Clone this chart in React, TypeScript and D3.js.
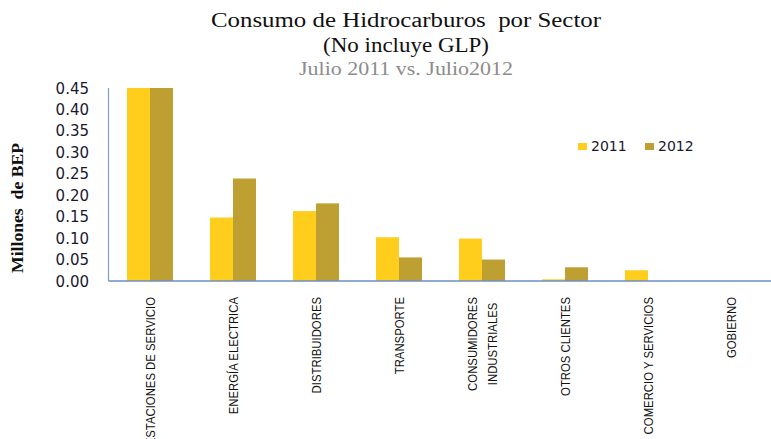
import { useRef, useEffect } from 'react';
import * as d3 from 'd3';

const categories = [
  ['ESTACIONES DE SERVICIO'],
  ['ENERGÍA ELECTRICA'],
  ['DISTRIBUIDORES'],
  ['TRANSPORTE'],
  ['CONSUMIDORES', 'INDUSTRIALES'],
  ['OTROS CLIENTES'],
  ['COMERCIO Y SERVICIOS'],
  ['GOBIERNO'],
];
const series = ['2011', '2012'];
const values2011 = [0.45, 0.148, 0.163, 0.102, 0.099, 0.004, 0.025, 0];
const values2012 = [0.45, 0.239, 0.181, 0.055, 0.05, 0.032, 0, 0];
const yTicks = [0, 0.05, 0.1, 0.15, 0.2, 0.25, 0.3, 0.35, 0.4, 0.45];
const colors = ['#FFCD1C', '#BEA032'];

const W = 771;
const H = 439;

export default function App() {
  const svgRef = useRef<SVGSVGElement>(null);

  useEffect(() => {
    if (!svgRef.current) return;
    const svg = d3.select(svgRef.current);
    svg.selectAll('*').remove();

    const left = 108.5;
    const bottom = 281;
    const top = 88;
    const bandW = 83;

    const keys = categories.map((c) => c.join(' '));
    const x = d3.scaleBand<string>().domain(keys).range([left, left + bandW * keys.length]).padding(0);
    const xs = d3.scaleBand<string>().domain(series)
      .range([x.bandwidth() * 0.223, x.bandwidth() * 0.777]).padding(0);
    const y = d3.scaleLinear().domain([0, 0.45]).range([bottom, top]);

    // titles (Cambria-like, stretched to the reference widths)
    const titles = [
      { t: 'Consumo de Hidrocarburos  por Sector', y: 27, c: '#111', s: 20, w: 390 },
      { t: '(No incluye GLP)', y: 52, c: '#111', s: 20, w: 166 },
      { t: 'Julio 2011 vs. Julio2012', y: 75, c: '#8c8c8c', s: 19, w: 214 },
    ];
    svg.selectAll('.title').data(titles).enter().append('text')
      .attr('class', 'title')
      .attr('x', 406)
      .attr('y', (d) => d.y)
      .attr('text-anchor', 'middle')
      .attr('textLength', (d) => d.w)
      .attr('lengthAdjust', 'spacingAndGlyphs')
      .style('font-family', '"Liberation Serif", serif')
      .style('font-size', (d) => `${d.s}px`)
      .style('white-space', 'pre')
      .attr('fill', (d) => d.c)
      .text((d) => d.t);

    // y axis title
    svg.append('text')
      .attr('transform', 'translate(23,208) rotate(-90)')
      .attr('text-anchor', 'middle')
      .attr('textLength', 130)
      .attr('lengthAdjust', 'spacingAndGlyphs')
      .style('font-family', '"Liberation Serif", serif')
      .style('font-weight', 'bold')
      .style('font-size', '17px')
      .style('white-space', 'pre')
      .attr('fill', '#111')
      .text('Millones  de BEP');

    // y tick labels
    svg.selectAll('.ytick').data(yTicks).enter().append('text')
      .attr('class', 'ytick')
      .attr('x', 89)
      .attr('y', (d) => y(d) + 5.5)
      .attr('text-anchor', 'end')
      .style('font-family', '"DejaVu Sans", sans-serif')
      .style('font-size', '15px')
      .attr('fill', '#1a1a2e')
      .text((d) => d.toFixed(2));

    // bars
    const rows = categories.map((c, i) => ({ key: keys[i], vals: [values2011[i], values2012[i]] }));
    const g = svg.selectAll('.grp').data(rows).enter().append('g')
      .attr('class', 'grp')
      .attr('transform', (d) => `translate(${x(d.key)},0)`);
    g.selectAll('rect')
      .data((d) => d.vals.map((v, j) => ({ s: series[j], v: Math.min(v, 0.45), j })))
      .enter().append('rect')
      .attr('x', (d) => xs(d.s) || 0)
      .attr('width', xs.bandwidth())
      .attr('y', (d) => y(d.v))
      .attr('height', (d) => bottom - y(d.v))
      .attr('fill', (d) => colors[d.j]);

    // axes lines
    svg.append('line')
      .attr('x1', left).attr('x2', left).attr('y1', top).attr('y2', bottom)
      .attr('stroke', '#7F9DCB').attr('stroke-width', 1.2);
    svg.append('line')
      .attr('x1', left).attr('x2', W).attr('y1', bottom).attr('y2', bottom)
      .attr('stroke', '#6C8FC7').attr('stroke-width', 1.5);

    // category labels, rotated, top aligned and lines centred (narrow look)
    const labelTop = 297;
    const lineGap = 20;
    categories.forEach((lines, i) => {
      const cx = (x(keys[i]) || 0) + x.bandwidth() / 2 + 5;
      const grp = svg.append('g');
      const texts = lines.map((l) => grp.append('text')
        .attr('text-anchor', 'middle')
        .style('font-family', '"Liberation Sans", sans-serif')
        .style('font-size', '13.5px')
        .attr('fill', '#111')
        .text(l));
      const lens = texts.map((t) => (t.node() as SVGTextElement).getComputedTextLength() * 0.84);
      texts.forEach((t, k) => t.attr('textLength', lens[k]).attr('lengthAdjust', 'spacingAndGlyphs'));
      const maxLen = Math.max(...lens);
      const cy = labelTop + maxLen / 2;
      texts.forEach((t, k) => {
        const off = (k - (lines.length - 1) / 2) * lineGap;
        t.attr('transform', `translate(${cx + off},${cy}) rotate(-90)`);
      });
    });

    // legend
    const legend = svg.append('g');
    const lx = [578, 645];
    series.forEach((s, j) => {
      legend.append('rect')
        .attr('x', lx[j]).attr('y', 143).attr('width', 9).attr('height', 7)
        .attr('fill', colors[j]);
      legend.append('text')
        .attr('x', lx[j] + 13).attr('y', 151)
        .style('font-family', '"DejaVu Sans", sans-serif')
        .style('font-size', '14px')
        .attr('fill', '#1a1a2e')
        .text(s);
    });
  }, []);

  return (
    <svg ref={svgRef} width={W} height={H}
      style={{ position: 'absolute', left: 0, top: 0, background: '#fff' }} />
  );
}
